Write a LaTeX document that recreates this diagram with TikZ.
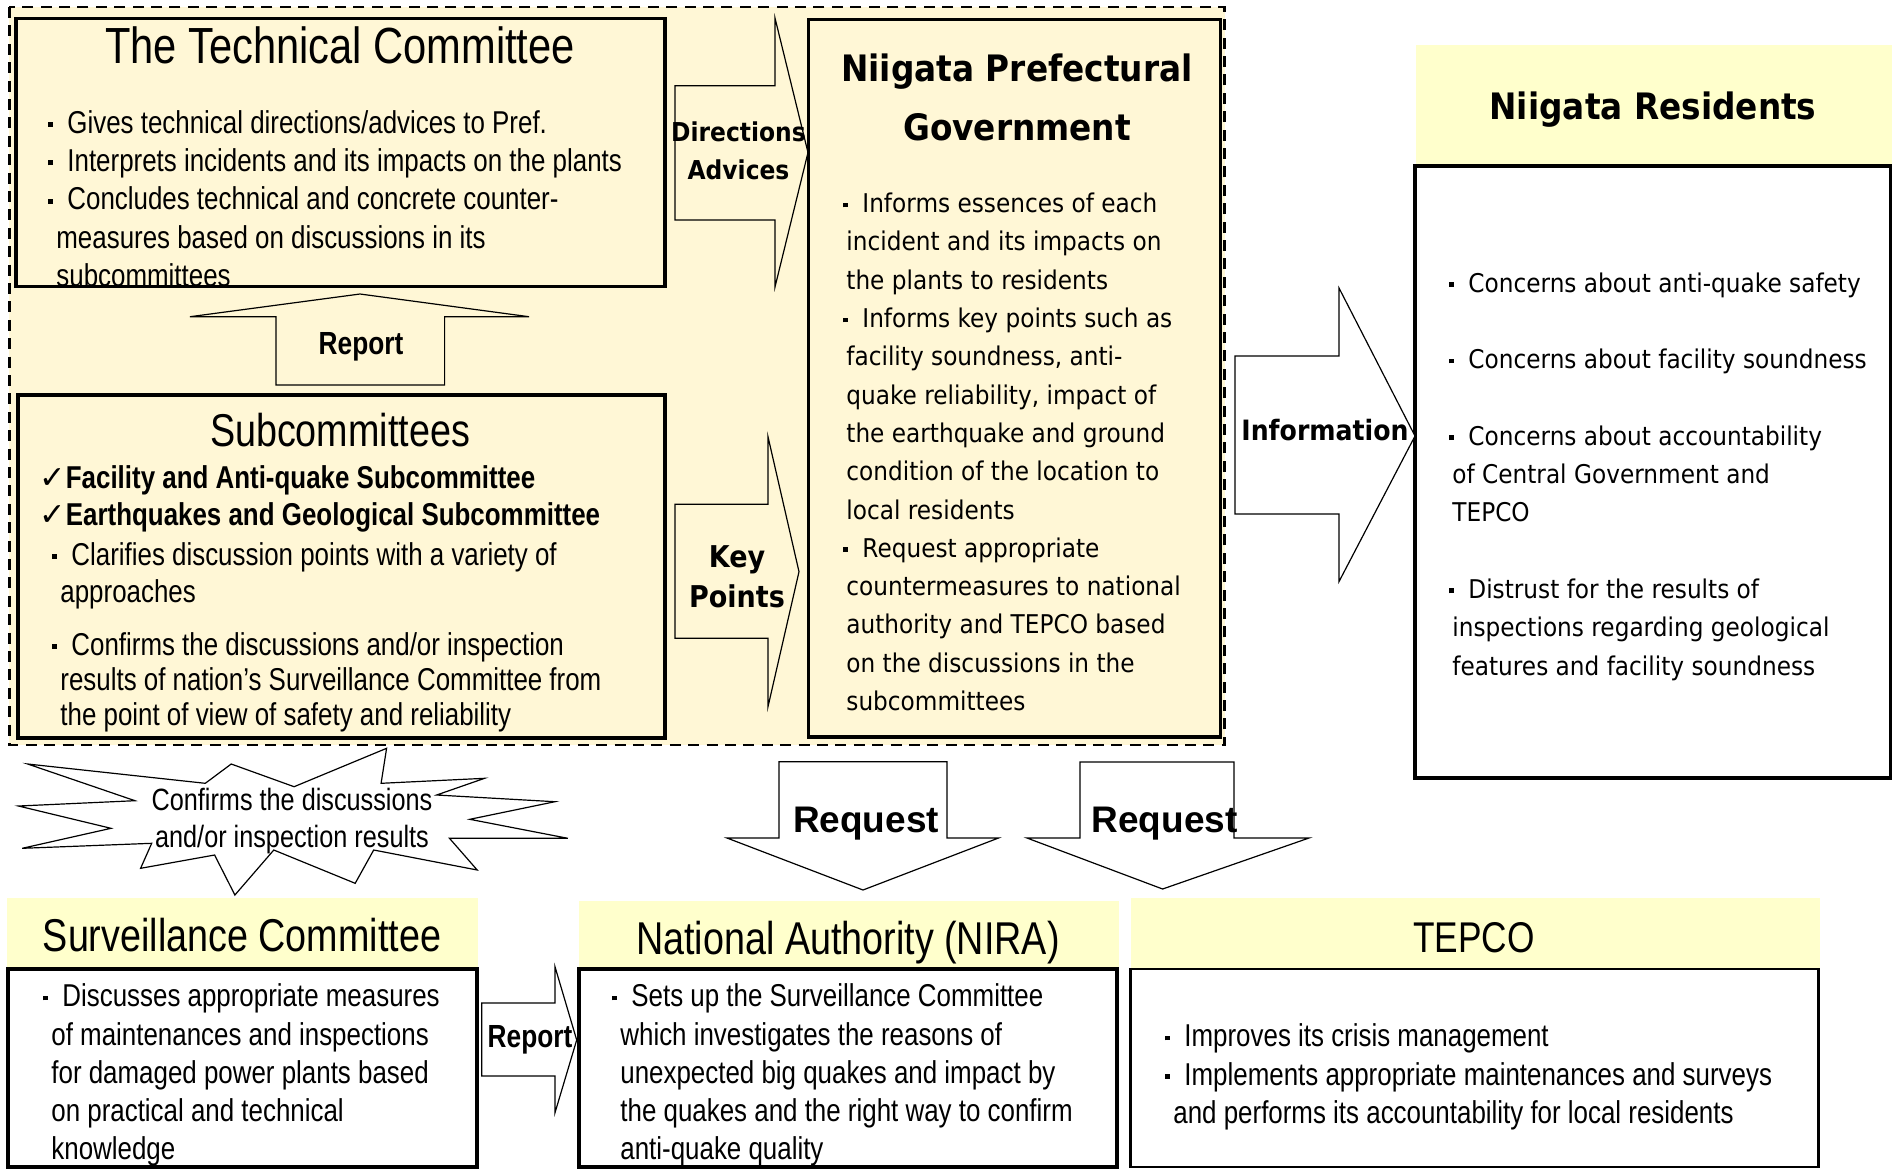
\documentclass[tikz,border=0pt]{standalone}
\usepackage{fontspec}
\setmainfont{Liberation Sans}[FakeStretch=0.82]
\newfontfamily\tahomaface{DejaVu Sans}[FakeStretch=0.9]
\newfontfamily\arialface{Liberation Sans}
\newfontfamily\symface{DejaVu Sans}
\usepackage{xcolor}
\definecolor{panelCream}{HTML}{FFF7D6}
\definecolor{headYellow}{HTML}{FFFFCC}
\usepackage{tikz}
\newcommand{\sqbul}{\rule[0.2em]{2.4pt}{2.4pt}\hspace{7.1pt}}
\newcommand{\contl}{\hspace*{4pt}}
\newcommand{\contt}{\hspace*{1.5pt}}
\tikzset{
    outerzone/.style={
        draw=black,
        line width=1.4pt,
        dash pattern=on 5.5pt off 3.7pt,
        fill=panelCream
    },
    panel/.style={
        draw=black,
        line width=1.7pt,
        fill=panelCream
    },
    headbar/.style={
        fill=headYellow
    },
    bodybox/.style={
        draw=black,
        line width=1.6pt,
        fill=white
    },
    blockarrow/.style={
        draw=black,
        line width=0.6pt,
        line join=miter
    },
    bigtitle/.style={
        font=\fontsize{25.4}{28}\selectfont,
        inner sep=0pt
    },
    headtitle/.style={
        font=\fontsize{23}{26}\selectfont,
        inner sep=0pt
    },
    tahomatitle/.style={
        font=\tahomaface\bfseries\fontsize{18.2}{29.5}\selectfont,
        align=center,
        inner sep=0pt
    },
    narrowtext/.style={
        font=\fontsize{15.8}{19.15}\selectfont,
        align=left,
        anchor=north west,
        inner sep=0pt
    },
    tahomatext/.style={
        font=\tahomaface\fontsize{12.9}{19.15}\selectfont,
        align=left,
        anchor=north west,
        inner sep=0pt
    },
    arrowlabel/.style={
        font=\tahomaface\bfseries\fontsize{13}{19.2}\selectfont,
        align=center,
        inner sep=0pt
    },
    reqlabel/.style={
        font=\arialface\bfseries\fontsize{18.5}{20}\selectfont,
        inner sep=0pt
    },
    replabel/.style={
        font=\bfseries\fontsize{16}{18}\selectfont,
        inner sep=0pt
    }
}

\begin{document}
\begin{tikzpicture}[x=0.5pt, y=-0.5pt]
    \useasboundingbox (0,0) rectangle (1892,1169);

    % Prefecture zone
    \draw[outerzone] (9.4,7) rectangle (1224.5,745);

    % Technical Committee
    \draw[panel] (16,18.3) rectangle (665,286.7);
    \node[bigtitle] (tcTitle) at (340,45) {The Technical Committee};
    \node[narrowtext] (tcText) at (48,110) {%
        \sqbul Gives technical directions/advices to Pref.\\
        \sqbul Interprets incidents and its impacts on the plants\\
        \sqbul Concludes technical and concrete counter-\\
        \contl measures based on discussions in its\\
        \contl subcommittees};

    % Subcommittees
    \draw[panel] (18,395) rectangle (665,738);
    \node[headtitle] (subTitle) at (340,430) {Subcommittees};
    \node[narrowtext, font=\bfseries\fontsize{15.8}{18.75}\selectfont] (subChecks) at (39,465) {%
        {\symface ✓}Facility and Anti-quake Subcommittee\\
        {\symface ✓}Earthquakes and Geological Subcommittee};
    \node[narrowtext, font=\fontsize{15.8}{18.7}\selectfont] (subPointA) at (52,541.7) {%
        \sqbul Clarifies discussion points with a variety of\\
        \contl approaches};
    \node[narrowtext, font=\fontsize{15.8}{17.5}\selectfont] (subPointB) at (52,631.7) {%
        \sqbul Confirms the discussions and/or inspection\\
        \contl results of nation’s Surveillance Committee from\\
        \contl the point of view of safety and reliability};

    % Niigata Prefectural Government
    \draw[panel] (808.5,19.4) rectangle (1220.6,736.8);
    \node[tahomatitle] (prefTitle) at (1017,97.5) {Niigata Prefectural\\Government};
    \node[tahomatext] (prefText) at (843,192.6) {%
        \sqbul Informs essences of each\\
        \contt incident and its impacts on\\
        \contt the plants to residents\\
        \sqbul Informs key points such as\\
        \contt facility soundness, anti-\\
        \contt quake reliability, impact of\\
        \contt the earthquake and ground\\
        \contt condition of the location to\\
        \contt local residents\\
        \sqbul Request appropriate\\
        \contt countermeasures to national\\
        \contt authority and TEPCO based\\
        \contt on the discussions in the\\
        \contt subcommittees};

    % Arrows inside the zone
    \draw[blockarrow] (675,85.7) -- (775,85.7) -- (775,18) -- (808,152.5)
        -- (775,287) -- (775,220) -- (675,220) -- cycle;
    \node[arrowlabel] (dirLabel) at (738.5,151) {Directions\\Advices};
    \draw[blockarrow] (675,504.3) -- (768,504.3) -- (768,436.7) -- (799,571.7)
        -- (768,706.7) -- (768,638.3) -- (675,638.3) -- cycle;
    \node[arrowlabel, font=\tahomaface\bfseries\fontsize{15}{20}\selectfont] (keyLabel) at (737,577) {Key\\Points};
    \draw[blockarrow] (276,385) -- (276,316.7) -- (190,316.7) -- (360,294)
        -- (529,316.7) -- (444.6,316.7) -- (444.6,385) -- cycle;
    \node[replabel] (repUpLabel) at (361,346.7) {Report};

    % Niigata Residents
    \fill[headbar] (1416,45) rectangle (1892,166);
    \node[tahomatitle] (resTitle) at (1653,110) {Niigata Residents};
    \draw[bodybox] (1415,166) rectangle (1890.5,778);
    \node[tahomatext] (resText) at (1449,272) {%
        \sqbul Concerns about anti-quake safety\\[19.15pt]
        \sqbul Concerns about facility soundness\\[19.15pt]
        \sqbul Concerns about accountability\\
        \contt of Central Government and\\
        \contt TEPCO\\[19.15pt]
        \sqbul Distrust for the results of\\
        \contt inspections regarding geological\\
        \contt features and facility soundness};
    \draw[blockarrow, fill=white] (1235,356) -- (1339,356) -- (1339,288) -- (1415,436)
        -- (1339,581.6) -- (1339,514) -- (1235,514) -- cycle;
    \node[arrowlabel, anchor=west, font=\tahomaface\bfseries\fontsize{14}{16}\selectfont] (infoLabel) at (1241,430) {Information};

    % Starburst
    \draw[blockarrow, fill=white] (27.7,764) -- (135,800.7) -- (18.5,806) -- (111,828.3)
        -- (22.2,848.3) -- (151.7,843.3) -- (140.6,868.3) -- (214.6,855)
        -- (234.9,895) -- (273.8,850) -- (355.2,883.3) -- (373.7,850)
        -- (477.2,870) -- (449.5,838.3) -- (567.9,838.3) -- (469.8,819.3)
        -- (554.9,801.7) -- (436.6,795) -- (484.6,778.3) -- (381.1,783.3)
        -- (386.6,748.3) -- (294.1,786.7) -- (231.2,764) -- (205.3,783.3) -- cycle;
    \node[align=center, inner sep=0pt, font=\fontsize{15.4}{18.2}\selectfont] (burstText) at (292,821) {Confirms the discussions\\and/or inspection results};

    % Request arrows
    \draw[blockarrow, fill=white] (779,761.7) -- (947,761.7) -- (947,838) -- (998.5,838)
        -- (863,890) -- (727,838) -- (779,838) -- cycle;
    \node[reqlabel] (reqNira) at (866,824) {Request};
    \draw[blockarrow, fill=white] (1080,762) -- (1234,762) -- (1234,838) -- (1309,838)
        -- (1162.6,889) -- (1027,838) -- (1080,838) -- cycle;
    \node[reqlabel] (reqTepco) at (1164.6,824) {Request};

    % Surveillance Committee
    \fill[headbar] (7,898) rectangle (478,969);
    \node[headtitle] (survTitle) at (242,935) {Surveillance Committee};
    \draw[bodybox] (8,969) rectangle (477,1167);
    \node[narrowtext] (survText) at (43,983.4) {%
        \sqbul Discusses appropriate measures\\
        \contl of maintenances and inspections\\
        \contl for damaged power plants based\\
        \contl on practical and technical\\
        \contl knowledge};
    \draw[blockarrow, fill=white] (481.7,1003) -- (555,1003) -- (555,966.7) -- (576.7,1040)
        -- (555,1112.7) -- (555,1076) -- (481.7,1076) -- cycle;
    \node[replabel] (repRightLabel) at (530,1040) {Report};

    % National Authority
    \fill[headbar] (579,901) rectangle (1119,969);
    \node[headtitle] (niraTitle) at (848,943) {National Authority (NIRA)};
    \draw[bodybox] (579,969) rectangle (1117,1167);
    \node[narrowtext] (niraText) at (612,983.4) {%
        \sqbul Sets up the Surveillance Committee\\
        \contl which investigates the reasons of\\
        \contl unexpected big quakes and impact by\\
        \contl the quakes and the right way to confirm\\
        \contl anti-quake quality};

    % TEPCO
    \fill[headbar] (1131,898) rectangle (1820,969);
    \node[headtitle, font=\fontsize{21.5}{24}\selectfont] (tepcoTitle) at (1474,937.5) {TEPCO};
    \draw[bodybox, line width=1.1pt] (1130.5,969) rectangle (1818.5,1167);
    \node[narrowtext] (tepcoText) at (1165,1023.4) {%
        \sqbul Improves its crisis management\\
        \sqbul Implements appropriate maintenances and surveys\\
        \contl and performs its accountability for local residents};
\end{tikzpicture}
\end{document}
